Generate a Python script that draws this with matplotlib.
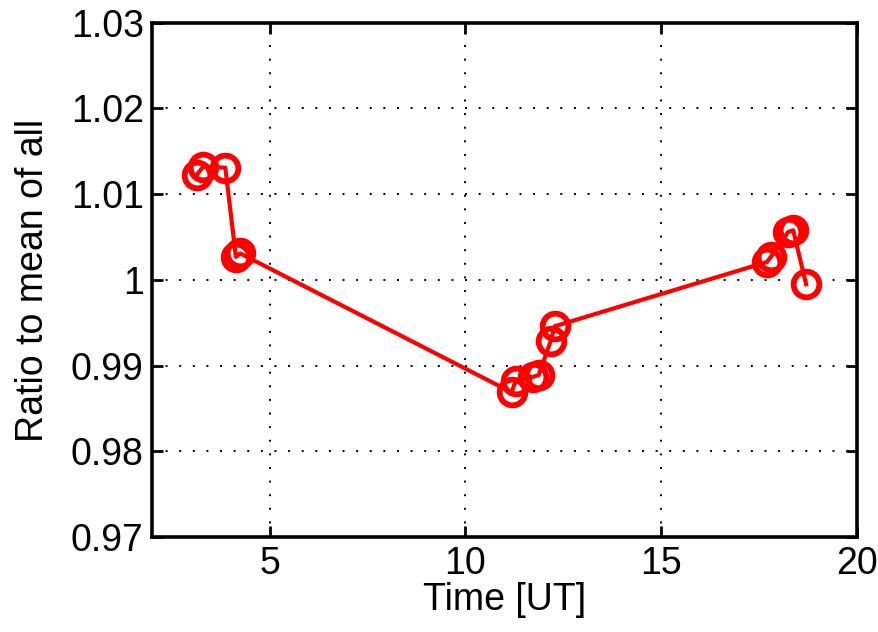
import numpy as np
import matplotlib
matplotlib.use("Agg")
import matplotlib.pyplot as plt
from matplotlib.ticker import FixedLocator, FuncFormatter

plt.rcParams['font.family'] = ['Liberation Sans', 'DejaVu Sans']

# Data
time_ut = [3.15, 3.30, 3.87, 4.14, 4.25,
           11.18, 11.28, 11.72, 11.87, 12.18, 12.28,
           17.70, 17.80, 18.24, 18.37, 18.70]
ratio = [1.0123, 1.0132, 1.0131, 1.0027, 1.0031,
         0.9869, 0.9882, 0.9887, 0.9889, 0.9929, 0.9946,
         1.0021, 1.0027, 1.0056, 1.0058, 0.9995]

xticks = [5, 10, 15, 20]
yticks = [0.97, 0.98, 0.99, 1.00, 1.01, 1.02, 1.03]

fig = plt.figure(figsize=(8.79, 6.32), dpi=100)
ax = fig.add_axes([0.173, 0.150, 0.802, 0.814])

ax.plot(time_ut, ratio, '-o', color='red', lw=3.0,
        markersize=18.5, markerfacecolor='none', markeredgewidth=4.2)

ax.set_xlim(2, 20)
ax.set_ylim(0.97, 1.03)
ax.xaxis.set_major_locator(FixedLocator(xticks))
ax.yaxis.set_major_locator(FixedLocator(yticks))
ax.yaxis.set_major_formatter(FuncFormatter(lambda v, p: ('%.2f' % v).rstrip('0').rstrip('.')))

ax.grid(True, color='black', linestyle=(0, (1, 6)), linewidth=1.4)
ax.tick_params(direction='in', length=8, width=2, labelsize=27, pad=6,
               top=True, right=True)
for s in ax.spines.values():
    s.set_linewidth(2.6)

ax.set_xlabel('Time [UT]', fontsize=27, labelpad=0)
ax.set_ylabel('Ratio to mean of all', fontsize=27, labelpad=14)

fig.savefig('out.png', dpi=100)
